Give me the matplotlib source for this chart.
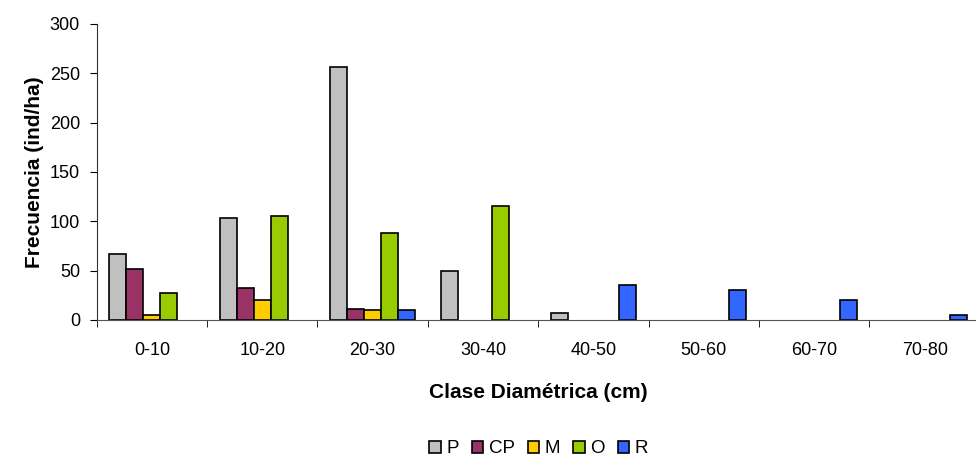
import numpy as np
import matplotlib.pyplot as plt

plt.rcParams['font.family'] = ['Liberation Sans', 'DejaVu Sans']

# clases diametricas
clases = ['0-10', '10-20', '20-30', '30-40', '40-50', '50-60', '60-70', '70-80']

# frecuencias (ind/ha) por grupo
P = [67, 103, 256, 50, 7, 0, 0, 0]
CP = [52, 32, 11, 0, 0, 0, 0, 0]
M = [5, 20, 10, 0, 0, 0, 0, 0]
O = [27, 105, 88, 115, 0, 0, 0, 0]
R = [0, 0, 10, 0, 35, 30, 20, 5]

series = [('P', P, '#C0C0C0'), ('CP', CP, '#993366'), ('M', M, '#FFCC00'),
          ('O', O, '#99CC00'), ('R', R, '#3366FF')]

fig = plt.figure(figsize=(9.76, 4.57), dpi=100)
ax = fig.add_axes([0.099, 0.300, 0.905, 0.6475])

x = np.arange(len(clases))
w = 1 / 6.5
for i, (nom, vals, col) in enumerate(series):
    vals = np.array(vals, dtype=float)
    # las clases sin individuos no se dibujan
    m = vals > 0
    ax.bar(x[m] + (i - 2) * w, vals[m], w, color=col, edgecolor='black',
           linewidth=1.2, label=nom)

ax.set_xlim(-0.5, len(clases) - 0.5)
ax.set_ylim(0, 300)
ax.set_yticks(range(0, 301, 50))
ax.set_xticks(x)
ax.set_xticklabels(clases)
ax.set_xticks(np.arange(-0.5, len(clases), 1), minor=True)
ax.tick_params(axis='x', which='major', length=0, pad=16, labelsize=13)
ax.tick_params(axis='x', which='minor', length=5, direction='out')
ax.tick_params(axis='y', length=5, direction='out', labelsize=13, pad=7)

for s in ['top', 'right']:
    ax.spines[s].set_visible(False)
ax.spines['left'].set_color('#333333')
ax.spines['bottom'].set_color('#555555')

ax.set_ylabel('Frecuencia (ind/ha)', fontsize=15, fontweight='bold', labelpad=4)
ax.set_xlabel('Clase Diamétrica (cm)', fontsize=15, fontweight='bold', labelpad=17)

fig.legend(loc='center', bbox_to_anchor=(0.552, 0.018), ncol=5, frameon=False,
           fontsize=13.5, handlelength=0.6, handleheight=0.6, handletextpad=0.3,
           columnspacing=0.7, borderpad=0.1)

fig.savefig('out.png', dpi=100)
